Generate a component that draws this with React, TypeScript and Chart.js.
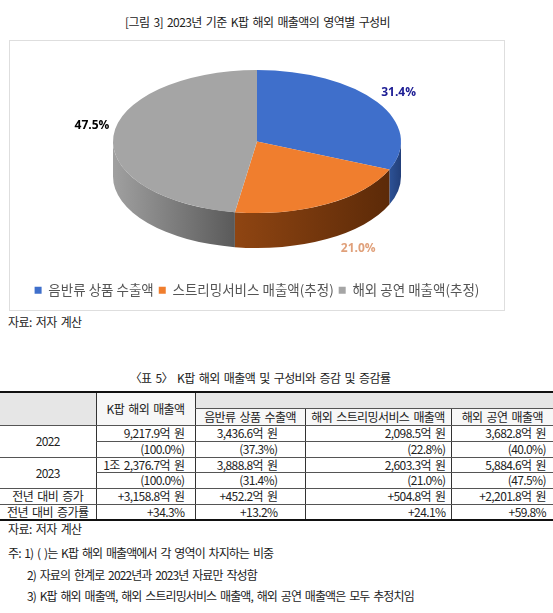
import React, { useEffect, useRef } from "react";
import { Chart, registerables } from "chart.js";

Chart.register(...registerables);

// ---------- data ----------
const categories = ["음반류 상품 수출액", "스트리밍서비스 매출액(추정)", "해외 공연 매출액(추정)"];
const shares2023 = [31.4, 21.0, 47.5];
const shareLabels = ["31.4%", "21.0%", "47.5%"];

const tableColumns = ["K팝 해외 매출액", "음반류 상품 수출액", "해외 스트리밍서비스 매출액", "해외 공연 매출액"];
const rowLabels = ["2022", "2023", "전년 대비 증가", "전년 대비 증가률"];
const amounts2022 = ["9,217.9억 원", "3,436.6억 원", "2,098.5억 원", "3,682.8억 원"];
const shares2022Text = ["(100.0%)", "(37.3%)", "(22.8%)", "(40.0%)"];
const amounts2023 = ["1조 2,376.7억 원", "3,888.8억 원", "2,603.3억 원", "5,884.6억 원"];
const shares2023Text = ["(100.0%)", "(31.4%)", "(21.0%)", "(47.5%)"];
const increase = ["+3,158.8억 원", "+452.2억 원", "+504.8억 원", "+2,201.8억 원"];
const increaseRate = ["+34.3%", "+13.2%", "+24.1%", "+59.8%"];

// ---------- style ----------
const FONT = '"Noto Sans CJK KR", "Noto Sans", sans-serif';
const TOP_COLORS = ["#3F6FCB", "#F07E2E", "#A5A5A5"];
const SIDE_STOPS = [
  ["#2d5296", "#223f7a"],
  ["#8f4512", "#5c2a08"],
  ["#a0a0a0", "#5a5a5a"],
];
const LABEL_COLORS = ["#1c1c94", "#e0a07a", "#000000"];
const RX = 144;
const RY = 71.5;
const DEPTH = 35;
const LABEL_GAP = 4;

const pie3d = {
  id: "pie3d",
  beforeDatasetsDraw(chart: any) {
    const meta = chart.getDatasetMeta(0);
    const arcs = meta.data;
    if (!arcs.length) return;
    const ctx = chart.ctx as CanvasRenderingContext2D;
    const a0 = arcs[0].getProps(["x", "y", "outerRadius"], true);
    const cx = a0.x;
    const cy = chart.chartArea.top + RY;
    arcs.forEach((el: any, i: number) => {
      const p = el.getProps(["startAngle", "endAngle"], true);
      const s = Math.max(p.startAngle, 0);
      const e = Math.min(p.endAngle, Math.PI);
      if (e <= s) return;
      const x1 = cx + RX * Math.cos(s);
      const x2 = cx + RX * Math.cos(e);
      const g = ctx.createLinearGradient(Math.min(x1, x2), 0, Math.max(x1, x2), 0);
      const stops = SIDE_STOPS[i];
      g.addColorStop(0, stops[0]);
      g.addColorStop(1, stops[1]);
      ctx.save();
      ctx.fillStyle = g;
      ctx.beginPath();
      ctx.ellipse(cx, cy, RX, RY, 0, s, e, false);
      ctx.lineTo(cx + RX * Math.cos(e), cy + RY * Math.sin(e) + DEPTH);
      ctx.ellipse(cx, cy + DEPTH, RX, RY, 0, e, s, true);
      ctx.closePath();
      ctx.fill();
      ctx.restore();
    });
    const r = a0.outerRadius;
    ctx.save();
    ctx.translate(cx, cy);
    ctx.scale(RX / r, RY / r);
    ctx.translate(-a0.x, -a0.y);
  },
  afterDatasetsDraw(chart: any) {
    const meta = chart.getDatasetMeta(0);
    const arcs = meta.data;
    if (!arcs.length) return;
    const ctx = chart.ctx as CanvasRenderingContext2D;
    ctx.restore();
    const a0 = arcs[0].getProps(["x"], true);
    const cx = a0.x;
    const cy = chart.chartArea.top + RY;
    arcs.forEach((el: any, i: number) => {
      const p = el.getProps(["startAngle", "endAngle"], true);
      const mid = (p.startAngle + p.endAngle) / 2;
      const c = Math.cos(mid);
      const sn = Math.sin(mid);
      const x = cx + RX * c + LABEL_GAP * Math.sign(c) + (sn > 0.5 ? 10 : 0);
      const y = cy + RY * sn + (sn > 0 ? DEPTH : 0) + LABEL_GAP * Math.sign(sn);
      ctx.save();
      ctx.font = 'bold 12px "Open Sans", "Liberation Sans", sans-serif';
      ctx.fillStyle = LABEL_COLORS[i];
      ctx.textAlign = c >= 0 ? "left" : "right";
      ctx.textBaseline = sn >= 0 ? "top" : "bottom";
      ctx.fillText(shareLabels[i], x, y);
      ctx.restore();
    });
  },
};

function PieChart() {
  const ref = useRef<HTMLCanvasElement | null>(null);
  useEffect(() => {
    if (!ref.current) return;
    const chart = new Chart(ref.current, {
      type: "pie",
      data: {
        labels: categories,
        datasets: [
          {
            data: shares2023,
            backgroundColor: TOP_COLORS,
            borderWidth: 0,
            clip: false as any,
          },
        ],
      },
      options: {
        responsive: false,
        animation: false,
        events: [],
        layout: { padding: { top: 29, bottom: 3 } },
        plugins: {
          tooltip: { enabled: false },
          legend: {
            position: "bottom",
            labels: {
              boxWidth: 7,
              boxHeight: 7,
              padding: 5,
              color: "#555555",
              font: { family: FONT, size: 13.5 },
            },
          },
        },
      },
      plugins: [pie3d],
    });
    return () => chart.destroy();
  }, []);
  return <canvas ref={ref} width={494} height={269} style={{ width: 494, height: 269, display: "block" }} />;
}

const cellBase: React.CSSProperties = {
  borderLeft: "1px solid #333",
  borderBottom: "1px solid #555",
  padding: 0,
  whiteSpace: "nowrap",
  overflow: "hidden",
};
const colPadRight = [10, 27, 5, 7];

function numCell(text: string, ci: number, key: string) {
  return (
    <td key={key} style={{ ...cellBase, textAlign: "right", paddingRight: colPadRight[ci] }}>
      {text}
    </td>
  );
}

function labelCell(text: string, rowSpan: number, key: string) {
  return (
    <td key={key} rowSpan={rowSpan} style={{ ...cellBase, borderLeft: "none", textAlign: "center" }}>
      {text}
    </td>
  );
}

export default function App() {
  const textStyle: React.CSSProperties = {
    position: "absolute",
    fontFamily: FONT,
    fontSize: 12,
    letterSpacing: "-0.6px",
    wordSpacing: "2px",
    color: "#222",
    whiteSpace: "nowrap",
    lineHeight: "16px",
  };
  const noteStyle: React.CSSProperties = { ...textStyle, letterSpacing: "-0.9px" };
  const rowH = [16, 17, 16, 16, 15, 16, 16, 15];
  return (
    <div style={{ position: "absolute", left: 0, top: 0, width: 553, height: 613, background: "#fff", overflow: "hidden" }}>
      <div style={{ ...textStyle, left: 0, width: 515, top: 14, textAlign: "center" }}>
        [그림 3] 2023년 기준 K팝 해외 매출액의 영역별 구성비
      </div>
      <div style={{ position: "absolute", left: 9, top: 40, width: 494, height: 269, border: "1px solid #dedede" }}>
        <PieChart />
      </div>
      <div style={{ ...textStyle, left: 8, top: 314 }}>자료: 저자 계산</div>
      <div style={{ ...textStyle, left: 0, width: 520, top: 370, textAlign: "center" }}>
        〈표 5〉 K팝 해외 매출액 및 구성비와 증감 및 증감률
      </div>
      <table
        style={{
          position: "absolute",
          left: 0,
          top: 391,
          width: 553,
          borderCollapse: "collapse",
          tableLayout: "fixed",
          fontFamily: FONT,
          fontSize: 12,
          letterSpacing: "-0.6px",
          wordSpacing: "2px",
          color: "#222",
          lineHeight: "14px",
          borderTop: "2px solid #111",
          borderBottom: "2px solid #111",
        }}
      >
        <colgroup>
          <col style={{ width: 96 }} />
          <col style={{ width: 99 }} />
          <col style={{ width: 110 }} />
          <col style={{ width: 146 }} />
          <col style={{ width: 102 }} />
        </colgroup>
        <tbody>
          <tr style={{ height: rowH[0] }}>
            <td rowSpan={2} style={{ ...cellBase, borderLeft: "none", background: "#e6e6e6" }} />
            <td rowSpan={2} style={{ ...cellBase, textAlign: "center", verticalAlign: "top", paddingTop: 9, background: "#f7f7f7" }}>
              {tableColumns[0]}
            </td>
            <td colSpan={3} style={{ ...cellBase, background: "#e6e6e6" }} />
          </tr>
          <tr style={{ height: rowH[1] }}>
            {tableColumns.slice(1).map((c, i) => (
              <td key={"h" + i} style={{ ...cellBase, textAlign: "center", background: "#f7f7f7" }}>
                {c}
              </td>
            ))}
          </tr>
          <tr style={{ height: rowH[2] }}>
            {labelCell(rowLabels[0], 2, "l0")}
            {amounts2022.map((t, i) => numCell(t, i, "a22" + i))}
          </tr>
          <tr style={{ height: rowH[3] }}>{shares2022Text.map((t, i) => numCell(t, i, "s22" + i))}</tr>
          <tr style={{ height: rowH[4] }}>
            {labelCell(rowLabels[1], 2, "l1")}
            {amounts2023.map((t, i) => numCell(t, i, "a23" + i))}
          </tr>
          <tr style={{ height: rowH[5] }}>{shares2023Text.map((t, i) => numCell(t, i, "s23" + i))}</tr>
          <tr style={{ height: rowH[6] }}>
            {labelCell(rowLabels[2], 1, "l2")}
            {increase.map((t, i) => numCell(t, i, "inc" + i))}
          </tr>
          <tr style={{ height: rowH[7] }}>
            {labelCell(rowLabels[3], 1, "l3")}
            {increaseRate.map((t, i) => numCell(t, i, "rate" + i))}
          </tr>
        </tbody>
      </table>
      <div style={{ ...textStyle, left: 8, top: 521 }}>자료: 저자 계산</div>
      <div style={{ ...noteStyle, left: 8, top: 545 }}>주: 1) ( )는 K팝 해외 매출액에서 각 영역이 차지하는 비중</div>
      <div style={{ ...noteStyle, left: 27, top: 567 }}>2) 자료의 한계로 2022년과 2023년 자료만 작성함</div>
      <div style={{ ...noteStyle, left: 27, top: 588 }}>3) K팝 해외 매출액, 해외 스트리밍서비스 매출액, 해외 공연 매출액은 모두 추정치임</div>
    </div>
  );
}
